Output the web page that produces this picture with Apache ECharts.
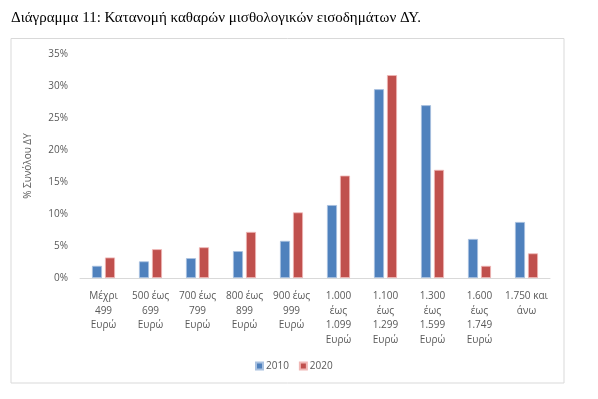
<!DOCTYPE html>
<html>
<head>
<meta charset="utf-8">
<script src="https://cdn.jsdelivr.net/npm/echarts@6/dist/echarts.min.js"></script>
<style>
  html, body { margin: 0; padding: 0; background: #fff; }
  #chart { width: 598px; height: 399px; }
</style>
</head>
<body>
<div id="chart"></div>
<script>
// κατηγορίες εισοδήματος
const categories = [
  'Μέχρι\n499\nΕυρώ',
  '500 έως\n699\nΕυρώ',
  '700 έως\n799\nΕυρώ',
  '800 έως\n899\nΕυρώ',
  '900 έως\n999\nΕυρώ',
  '1.000\nέως\n1.099\nΕυρώ',
  '1.100\nέως\n1.299\nΕυρώ',
  '1.300\nέως\n1.599\nΕυρώ',
  '1.600\nέως\n1.749\nΕυρώ',
  '1.750 και\nάνω'
]
// % συνόλου ΔΥ
const values2010 = [1.9, 2.6, 3.1, 4.2, 5.8, 11.4, 29.5, 27.0, 6.1, 8.75]
const values2020 = [3.2, 4.5, 4.8, 7.2, 10.25, 16.0, 31.7, 16.9, 1.9, 3.85]
const seriesNames = ['2010', '2020']

const chart = echarts.init(document.getElementById('chart'))
const labelFont = '"Open Sans", "Noto Sans", sans-serif'

const option = {
  animation: false,
  title: {
    text: 'Διάγραμμα 11: Κατανομή καθαρών μισθολογικών εισοδημάτων ΔΥ.',
    left: 6,
    top: 6,
    textStyle: {
      fontFamily: '"Liberation Serif", "DejaVu Serif", serif',
      fontSize: 15,
      fontWeight: 'normal',
      color: '#000'
    }
  },
  // πλαίσιο γραφήματος
  graphic: [{
    type: 'rect',
    shape: { x: 11, y: 38.5, width: 553, height: 344.5 },
    style: { fill: 'none', stroke: '#d9d9d9', lineWidth: 1 },
    silent: true
  }],
  grid: { left: 80, right: 48, top: 54, bottom: 121 },
  legend: {
    data: seriesNames,
    left: 250,
    top: 356,
    itemWidth: 7,
    itemHeight: 7,
    itemGap: 10,
    icon: 'rect',
    textStyle: { fontFamily: labelFont, fontSize: 10, color: '#595959', padding: [0, 0, 0, -2] }
  },
  xAxis: {
    type: 'category',
    data: categories,
    axisLine: { lineStyle: { color: '#d9d9d9' } },
    axisTick: { show: false },
    axisLabel: {
      interval: 0,
      margin: 11,
      lineHeight: 14.5,
      fontFamily: labelFont,
      fontSize: 10,
      color: '#595959'
    }
  },
  yAxis: {
    type: 'value',
    min: 0,
    max: 35,
    interval: 5,
    name: '% Συνόλου ΔΥ',
    nameLocation: 'middle',
    nameRotate: 90,
    nameGap: 47,
    nameTextStyle: { fontFamily: labelFont, fontSize: 10, color: '#595959' },
    axisLine: { show: false },
    axisTick: { show: false },
    splitLine: { show: false },
    axisLabel: {
      formatter: '{value}%',
      margin: 12,
      fontFamily: labelFont,
      fontSize: 10,
      color: '#595959'
    }
  },
  series: [
    {
      name: seriesNames[0],
      type: 'bar',
      data: values2010,
      barWidth: 10,
      barGap: '30%',
      itemStyle: { color: '#4f81bd', borderColor: '#a9c1e0', borderWidth: 0.8 }
    },
    {
      name: seriesNames[1],
      type: 'bar',
      data: values2020,
      barWidth: 10,
      barGap: '30%',
      itemStyle: { color: '#c0504d', borderColor: '#f0b8b6', borderWidth: 0.8 }
    }
  ]
}

chart.setOption(option)
</script>
</body>
</html>
